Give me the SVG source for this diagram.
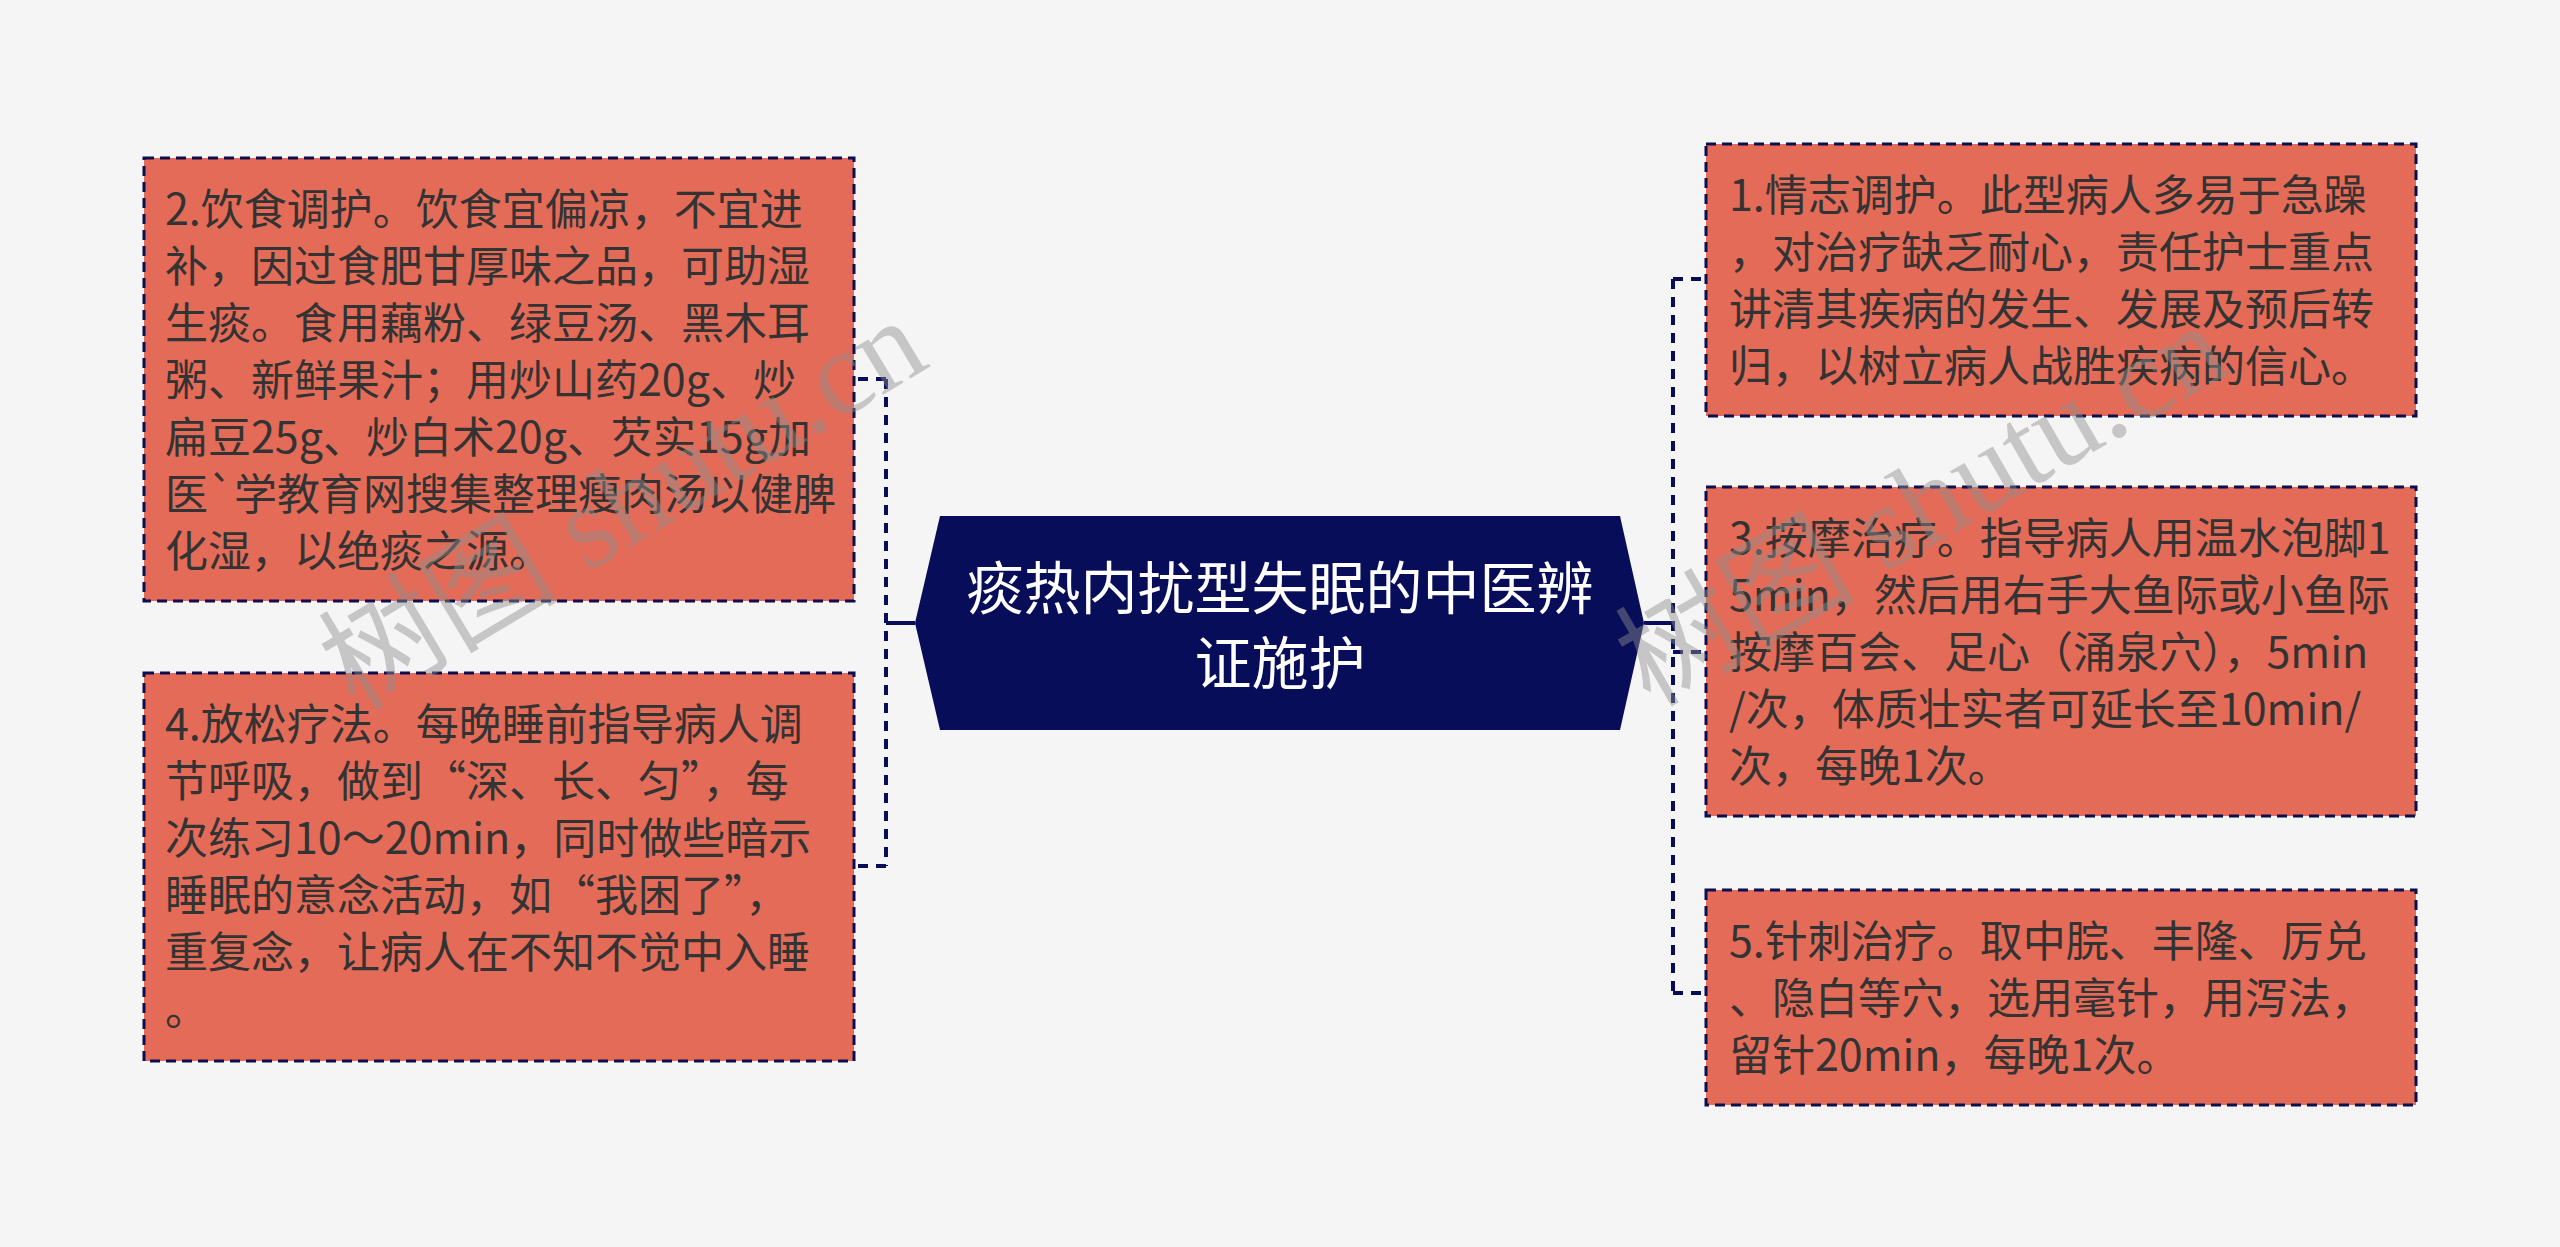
<svg xmlns="http://www.w3.org/2000/svg" width="2560" height="1247" viewBox="0 0 2560 1247">
<style>
.bg{fill:#f5f5f5}
.node rect{fill:#e46b58;stroke:#0b0f4f;stroke-width:3;stroke-dasharray:10 6}
.node text{font-family:"Noto Sans CJK SC","Microsoft YaHei",sans-serif;font-size:43px;fill:#333333}
.root polygon{fill:#070d59}
.root text{font-family:"Noto Sans CJK SC",sans-serif;font-size:57px;fill:#ffffff;text-anchor:middle}
.conn .solid{stroke:#070d59;stroke-width:4;fill:none}
.conn .dash{stroke:#070d59;stroke-width:4;fill:none;stroke-dasharray:10 8}
.wm{font-family:"Liberation Serif","Noto Sans CJK SC",serif;font-size:120px;fill:#8f8f8f;opacity:0.45}
</style>
<rect class="bg" x="0" y="0" width="2560" height="1247"/>

<g id="connectors" class="conn">
  <path class="solid" d="M915 623 H886"/>
  <path class="dash" d="M886 379 V866"/>
  <path class="dash" d="M886 379 H856"/>
  <path class="dash" d="M886 866 H856"/>
  <path class="solid" d="M1644 623 H1673"/>
  <path class="dash" d="M1673 279 V993"/>
  <path class="dash" d="M1673 279 H1706"/>
  <path class="dash" d="M1673 652 H1706"/>
  <path class="dash" d="M1673 993 H1706"/>
</g>

<g id="root" class="root">
  <polygon points="915,623 940,516 1620,516 1644,623 1620,730 940,730"/>
  <text x="1280" y="609">痰热内扰型失眠的中医辨</text>
  <text x="1280" y="684">证施护</text>
</g>

<g id="node2" class="node">
  <rect x="144" y="158" width="710" height="443"/>
  <text x="165" y="225">
    <tspan x="165" y="225">2.饮食调护。饮食宜偏凉，不宜进</tspan>
    <tspan x="165" y="282">补，因过食肥甘厚味之品，可助湿</tspan>
    <tspan x="165" y="339">生痰。食用藕粉、绿豆汤、黑木耳</tspan>
    <tspan x="165" y="396">粥、新鲜果汁；用炒山药20g、炒</tspan>
    <tspan x="165" y="453">扁豆25g、炒白术20g、芡实15g加</tspan>
    <tspan x="165" y="510">医`学教育网搜集整理瘦肉汤以健脾</tspan>
    <tspan x="165" y="567">化湿，以绝痰之源。</tspan>
  </text>
</g>

<g id="node4" class="node">
  <rect x="144" y="673" width="710" height="388"/>
  <text x="165" y="740">
    <tspan x="165" y="740">4.放松疗法。每晚睡前指导病人调</tspan>
    <tspan x="165" y="797">节呼吸，做到“深、长、匀”，每</tspan>
    <tspan x="165" y="854">次练习10～20min，同时做些暗示</tspan>
    <tspan x="165" y="911">睡眠的意念活动，如“我困了”，</tspan>
    <tspan x="165" y="968">重复念，让病人在不知不觉中入睡</tspan>
    <tspan x="165" y="1025">。</tspan>
  </text>
</g>

<g id="node1" class="node">
  <rect x="1706" y="144" width="710" height="272"/>
  <text x="1729" y="211">
    <tspan x="1729" y="211">1.情志调护。此型病人多易于急躁</tspan>
    <tspan x="1729" y="268">，对治疗缺乏耐心，责任护士重点</tspan>
    <tspan x="1729" y="325">讲清其疾病的发生、发展及预后转</tspan>
    <tspan x="1729" y="382">归，以树立病人战胜疾病的信心。</tspan>
  </text>
</g>

<g id="node3" class="node">
  <rect x="1706" y="487" width="710" height="329"/>
  <text x="1729" y="554">
    <tspan x="1729" y="554">3.按摩治疗。指导病人用温水泡脚1</tspan>
    <tspan x="1729" y="611">5min，然后用右手大鱼际或小鱼际</tspan>
    <tspan x="1729" y="668">按摩百会、足心（涌泉穴），5min</tspan>
    <tspan x="1729" y="725">/次，体质壮实者可延长至10min/</tspan>
    <tspan x="1729" y="782">次，每晚1次。</tspan>
  </text>
</g>

<g id="node5" class="node">
  <rect x="1706" y="890" width="710" height="215"/>
  <text x="1729" y="957">
    <tspan x="1729" y="957">5.针刺治疗。取中脘、丰隆、厉兑</tspan>
    <tspan x="1729" y="1014">、隐白等穴，选用毫针，用泻法，</tspan>
    <tspan x="1729" y="1071">留针20min，每晚1次。</tspan>
  </text>
</g>

<g id="watermarks">
  <text class="wm" transform="translate(355,712) rotate(-31)">树图 shutu.cn</text>
  <text class="wm" transform="translate(1650,708) rotate(-30)">树图 shutu.cn</text>
</g>
</svg>
